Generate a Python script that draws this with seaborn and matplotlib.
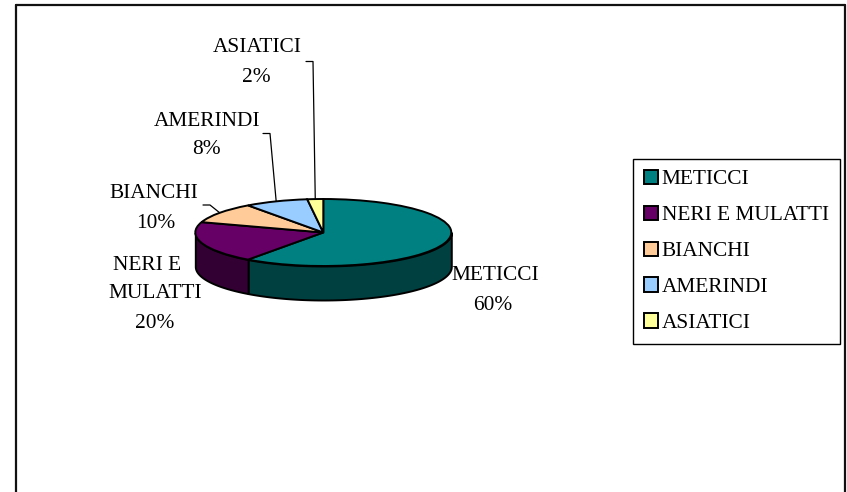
import numpy as np
import matplotlib
matplotlib.use("Agg")
import matplotlib.pyplot as plt
import seaborn as sns
from matplotlib.lines import Line2D

categories = ["METICCI", "NERI E MULATTI", "BIANCHI", "AMERINDI", "ASIATICI"]
values = [60, 20, 10, 8, 2]
colors = ["#008080", "#660066", "#FFCC99", "#99CCFF", "#FFFF99"]
wall_colors = ["#004040", "#330033"]

# label lines, centre x / y in pixels
label_lines = [
    ("METICCI", 495, 275), ("60%", 493, 305),
    ("NERI E", 147, 266), ("MULATTI", 155, 294), ("20%", 155, 323),
    ("BIANCHI", 154, 193), ("10%", 156, 223),
    ("AMERINDI", 207, 121), ("8%", 206, 150),
    ("ASIATICI", 257, 48), ("2%", 256, 78),
]
# elbow and end of the leader lines, in pixels (slice index -> points)
leaders = {2: [(210, 205), (203, 205)], 3: [(270, 133.5), (263, 133.5)], 4: [(313, 61.5), (306, 61.5)]}

W, H = 847, 492
cx, cy, rx, ry = 323.3, 232.5, 128, 33.5
depth = 34 / ry

sns.set_theme(style="white")
plt.rcParams["font.family"] = ["Liberation Serif", "DejaVu Serif"]
fs = 15.4

fig = plt.figure(figsize=(W / 100, H / 100), dpi=100)
ax = fig.add_axes([0, 0, 1, 1])

wedges, _ = ax.pie(values, colors=colors, startangle=90, counterclock=False,
                   wedgeprops=dict(edgecolor="black", linewidth=1.4), radius=1)
for w in wedges:
    w.set_zorder(5)
ax.set_aspect("auto")
ax.set_xlim((0 - cx) / rx, (W - cx) / rx)
ax.set_ylim((cy - H) / ry, cy / ry)


def to_data(px, py):
    return (px - cx) / rx, (cy - py) / ry


# side wall, only the part of each slice on the lower half
start = 90.0
mids = []
for i, v in enumerate(values):
    end = start - v * 3.6
    mids.append((start + end) / 2)
    lo, hi = max(end, -180), min(start, 0)
    if hi > lo:
        t = np.radians(np.linspace(lo, hi, 80))
        ax.fill_between(np.cos(t), np.sin(t), np.sin(t) - depth,
                        facecolor=wall_colors[i], edgecolor="black", linewidth=1.4, zorder=3)
    start = end

# leader lines start on the rim at the middle of the slice
for i, pts in leaders.items():
    a = np.radians(mids[i])
    xs = [np.cos(a)] + [to_data(*p)[0] for p in pts]
    ys = [np.sin(a)] + [to_data(*p)[1] for p in pts]
    ax.plot(xs, ys, color="black", linewidth=0.9, zorder=4)

for txt, px, py in label_lines:
    fig.text(px / W, 1 - py / H, txt, ha="center", va="center", fontsize=fs, color="black")

# outer frame, no bottom edge in the picture
for x0, y0, x1, y1 in [(16, 492, 16, 5), (16, 5, 845, 5), (845, 5, 845, 492)]:
    fig.add_artist(Line2D([x0 / W, x1 / W], [1 - y0 / H, 1 - y1 / H], color="#111111", linewidth=1.6))

leg = ax.legend(wedges, categories, loc="upper left",
                bbox_to_anchor=(633 / W, 1 - 159 / H), bbox_transform=fig.transFigure,
                fontsize=fs, labelcolor="black", frameon=True, fancybox=False, framealpha=1,
                edgecolor="black", handlelength=0.65, handleheight=0.65, handletextpad=0.2,
                labelspacing=0.76, borderpad=0.5, borderaxespad=0)
leg.get_frame().set_linewidth(1.0)
leg.set_zorder(10)

fig.savefig("out.png", dpi=100)
